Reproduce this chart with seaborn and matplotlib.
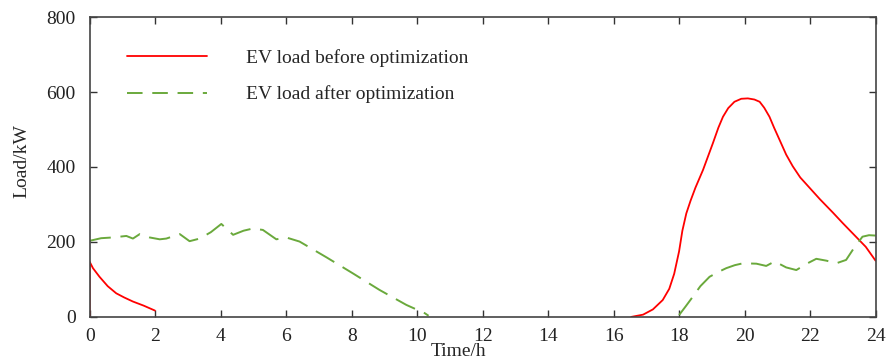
import matplotlib
matplotlib.use("Agg")
import matplotlib.pyplot as plt
import seaborn as sns
import pandas as pd

# Data
t_before_morning = [0.0, 0.0, 0.1, 0.3, 0.55, 0.81, 1.05, 1.32, 1.65, 1.99]
load_before_morning = [0, 147, 130, 107, 82, 63, 52, 41, 30, 17]

t_before_evening = [16.54, 16.9, 17.2, 17.5, 17.7, 17.85, 18.0, 18.1, 18.22, 18.35, 18.5,
                    18.73, 19.03, 19.2, 19.34, 19.5, 19.69, 19.9, 20.1, 20.3, 20.46,
                    20.6, 20.76, 20.9, 21.07, 21.27, 21.47, 21.7, 22.0, 22.3, 22.7,
                    23.0, 23.3, 23.7, 24.0]
load_before_evening = [0, 6, 20, 45, 75, 115, 175, 230, 276, 310, 345,
                       392, 463, 505, 534, 557, 574, 582, 583, 580, 574,
                       558, 534, 505, 472, 433, 402, 372, 343, 314, 278,
                       250, 223, 187, 150]

t_after_morning = [0.0, 0.35, 0.71, 1.12, 1.32, 1.53, 1.83, 2.14, 2.34, 2.75, 3.05, 3.36,
                   3.7, 4.02, 4.38, 4.7, 4.99, 5.29, 5.7, 6.0, 6.41, 7.23, 8.04, 8.85,
                   9.67, 10.23, 10.35]
load_after_morning = [203, 210, 212, 216, 209, 221, 212, 207, 209, 221, 202, 209,
                      226, 248, 219, 230, 236, 232, 207, 212, 201, 159, 116, 72,
                      32, 10, 3]

t_after_evening = [18.0, 18.2, 18.42, 18.65, 18.93, 19.2, 19.44, 19.7, 19.95, 20.36,
                   20.66, 20.92, 21.27, 21.58, 21.9, 22.19, 22.5, 22.8, 23.1, 23.35,
                   23.6, 23.8, 24.0]
load_after_evening = [5, 28, 54, 82, 107, 120, 130, 138, 143, 142,
                      136, 148, 132, 125, 142, 155, 150, 143, 152, 185,
                      214, 218, 217]

x_ticks = [0, 2, 4, 6, 8, 10, 12, 14, 16, 18, 20, 22, 24]
y_ticks = [0, 200, 400, 600, 800]

label_before = "EV load before optimization"
label_after = "EV load after optimization"

sns.set_style("ticks")
plt.rcParams['font.family'] = ['Liberation Serif', 'DejaVu Serif']

fig = plt.figure(figsize=(8.88, 3.63), dpi=100)
ax = fig.add_axes([0.101, 0.127, 0.885, 0.826])

red = "#ff0000"
green = "#6aa93c"

df_bm = pd.DataFrame({"t": t_before_morning, "load": load_before_morning})
df_be = pd.DataFrame({"t": t_before_evening, "load": load_before_evening})
df_am = pd.DataFrame({"t": t_after_morning, "load": load_after_morning})
df_ae = pd.DataFrame({"t": t_after_evening, "load": load_after_evening})

sns.lineplot(data=df_bm, x="t", y="load", ax=ax, color=red, lw=1.3, sort=False,
             estimator=None, label=label_before)
sns.lineplot(data=df_be, x="t", y="load", ax=ax, color=red, lw=1.3, sort=False,
             estimator=None)
sns.lineplot(data=df_am, x="t", y="load", ax=ax, color=green, lw=1.4, sort=False,
             estimator=None, label=label_after)
sns.lineplot(data=df_ae, x="t", y="load", ax=ax, color=green, lw=1.4, sort=False,
             estimator=None)

lines = ax.get_lines()
lines[2].set_dashes([11, 5])
lines[3].set_dashes([11, 5])

ax.set_xlim(0, 24)
ax.set_ylim(0, 800)
ax.set_xticks(x_ticks)
ax.set_yticks(y_ticks)
ax.tick_params(direction="in", top=True, right=True, length=5, width=1,
               labelsize=14, colors="#333333", labelcolor="#222222")
ax.tick_params(axis="x", pad=8)
ax.tick_params(axis="y", pad=10)
for s in ax.spines.values():
    s.set_visible(True)
    s.set_linewidth(1.2)
    s.set_color("#444444")

ax.set_xlabel("Time/h", fontsize=14)
ax.set_ylabel("Load/kW", fontsize=14)
ax.xaxis.set_label_coords(0.469, -0.088)
ax.yaxis.set_label_coords(-0.076, 0.52)

leg = ax.legend(loc="upper left", frameon=False, fontsize=14, handlelength=4.1,
                handletextpad=2.0, labelspacing=0.95, borderpad=0, borderaxespad=0,
                bbox_to_anchor=(0.048, 0.893))
leg.get_lines()[1].set_dashes([8, 5])

fig.savefig("out.png", dpi=100)
